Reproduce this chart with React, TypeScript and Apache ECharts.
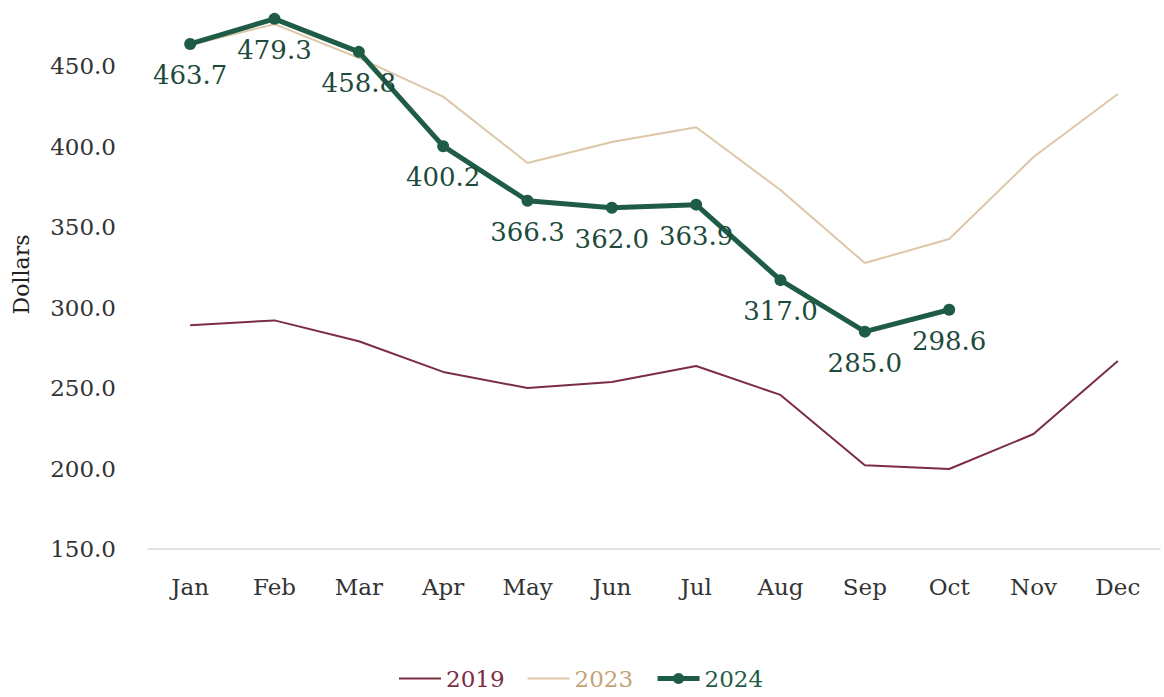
import React, { useEffect, useRef } from "react";
import * as echarts from "echarts";

const months = ["Jan", "Feb", "Mar", "Apr", "May", "Jun", "Jul", "Aug", "Sep", "Oct", "Nov", "Dec"];
const s2019 = [289, 292, 279, 260, 250, 253.7, 263.7, 245.7, 202, 199.7, 221.4, 266.8];
const s2023 = [463, 476, 455, 431, 389.8, 402.8, 412, 373, 327.6, 342.5, 393.5, 432.6];
const s2024 = [463.7, 479.3, 458.8, 400.2, 366.3, 362.0, 363.9, 317.0, 285.0, 298.6];

const FONT = "DejaVu Serif";
const C2019 = "#7b2d45";
const C2023 = "#dcc7a8";
const C2024 = "#1f5c46";

export default function App() {
  const ref = useRef<HTMLDivElement>(null);
  useEffect(() => {
    const chart = echarts.init(ref.current!, null, { renderer: "svg" });
    chart.setOption({
      animation: false,
      textStyle: { fontFamily: FONT },
      grid: { left: 148, right: 4, top: 0, bottom: 148 },
      legend: {
        bottom: 2,
        left: 393,
        itemWidth: 42,
        itemHeight: 14,
        itemGap: 22,
        textStyle: { fontFamily: FONT, fontSize: 23 },
        data: [
          { name: "2019", itemStyle: { opacity: 0 }, lineStyle: { width: 2 }, textStyle: { color: C2019 } },
          { name: "2023", itemStyle: { opacity: 0 }, lineStyle: { width: 2 }, textStyle: { color: "#c4a476" } },
          { name: "2024", lineStyle: { width: 5 }, textStyle: { color: C2024 } },
        ],
      },
      xAxis: {
        type: "category",
        data: months,
        boundaryGap: true,
        axisLine: { lineStyle: { color: "#d9d9d9", width: 1.5 } },
        axisTick: { show: false },
        axisLabel: { color: "#333", fontSize: 23, fontFamily: FONT, margin: 26 },
      },
      yAxis: {
        type: "value",
        min: 150,
        max: 491,
        interval: 50,
        name: "Dollars",
        nameLocation: "middle",
        nameGap: 116,
        nameTextStyle: { color: "#222", fontSize: 22, fontFamily: FONT },
        splitLine: { show: false },
        axisLine: { show: false },
        axisTick: { show: false },
        axisLabel: {
          color: "#333",
          fontSize: 23,
          fontFamily: FONT,
          margin: 32,
          showMaxLabel: false,
          formatter: (v: number) => v.toFixed(1),
        },
      },
      series: [
        {
          name: "2019",
          type: "line",
          data: s2019,
          symbol: "none",
          lineStyle: { color: C2019, width: 2 },
          itemStyle: { color: C2019 },
        },
        {
          name: "2023",
          type: "line",
          data: s2023,
          symbol: "none",
          lineStyle: { color: C2023, width: 2 },
          itemStyle: { color: C2023 },
        },
        {
          name: "2024",
          type: "line",
          data: s2024,
          symbol: "circle",
          symbolSize: 12,
          lineStyle: { color: C2024, width: 5 },
          itemStyle: { color: C2024 },
          label: {
            show: true,
            position: "bottom",
            distance: 12,
            color: "#1d4a3b",
            fontSize: 26,
            fontFamily: FONT,
            formatter: (p: any) => Number(p.value).toFixed(1),
          },
        },
      ],
    });
    return () => chart.dispose();
  }, []);
  return (
    <div
      ref={ref}
      style={{ position: "fixed", left: 0, top: 0, width: 1164, height: 697, background: "#fff" }}
    />
  );
}
